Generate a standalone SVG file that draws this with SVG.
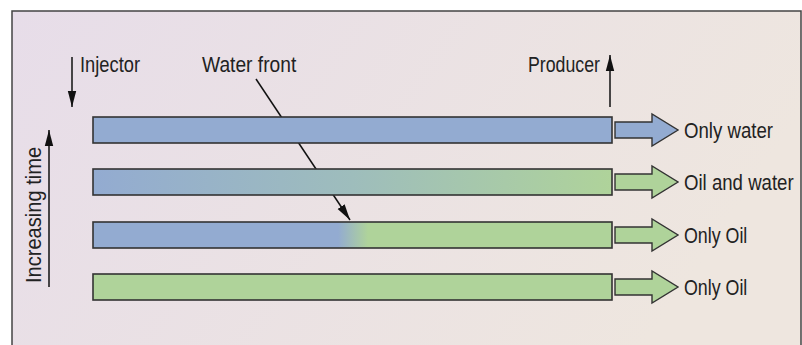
<svg xmlns="http://www.w3.org/2000/svg" width="802" height="345" viewBox="0 0 802 345">
<defs>
<linearGradient id="bg" x1="0" y1="0" x2="1" y2="0.3">
<stop offset="0" stop-color="#e7dde9"/>
<stop offset="1" stop-color="#eee6df"/>
</linearGradient>
<linearGradient id="mix" x1="0" y1="0" x2="1" y2="0">
<stop offset="0" stop-color="#93abd1"/>
<stop offset="0.5" stop-color="#9ebdbc"/>
<stop offset="1" stop-color="#afd39a"/>
</linearGradient>
<linearGradient id="front" x1="93" y1="0" x2="612" y2="0" gradientUnits="userSpaceOnUse">
<stop offset="0" stop-color="#93abd1"/>
<stop offset="0.472" stop-color="#93abd1"/>
<stop offset="0.53" stop-color="#afd39a"/>
<stop offset="1" stop-color="#afd39a"/>
</linearGradient>
<marker id="ah2" viewBox="0 0 16 10" refX="16" refY="5" markerWidth="16" markerHeight="10" markerUnits="userSpaceOnUse" orient="auto">
<path d="M0,0.8 L16,5 L0,9.2 Z" fill="#111"/>
</marker>
</defs>
<style>
.bar{stroke:#333;stroke-width:1.6}
.blk{stroke:#333;stroke-width:1.4}
.lbl{font-family:"Liberation Sans",Arial,sans-serif;font-size:22px;fill:#222}
.ln{stroke:#111;stroke-width:1.5;fill:none}
.blue{fill:#93abd1}
.green{fill:#afd39a}
</style>
<rect x="12" y="11" width="789" height="350" fill="url(#bg)" stroke="#444" stroke-width="1.5"/>
<g id="connectors">
<line class="ln" x1="72" y1="57" x2="72" y2="107" marker-end="url(#ah2)"/>
<line class="ln" x1="610" y1="107" x2="610" y2="55" marker-end="url(#ah2)"/>
<line class="ln" x1="49" y1="287" x2="49" y2="130" marker-end="url(#ah2)"/>
<line class="ln" x1="256" y1="79" x2="350" y2="220" marker-end="url(#ah2)"/>
</g>
<g id="bar1">
<rect class="bar blue" x="93" y="117" width="519" height="26"/>
<path class="blk blue" d="M615,122 H652 V114 L678,130 L652,146 V138 H615 Z"/>
<text class="lbl" transform="translate(684,138) scale(0.847,1)">Only water</text>
</g>
<g id="bar2">
<rect class="bar" fill="url(#mix)" x="93" y="169" width="519" height="26"/>
<path class="blk green" d="M615,174 H652 V166 L678,182 L652,198 V190 H615 Z"/>
<text class="lbl" transform="translate(684,190) scale(0.846,1)">Oil and water</text>
</g>
<g id="bar3">
<rect class="bar" fill="url(#front)" x="93" y="222" width="519" height="26"/>
<path class="blk green" d="M615,227 H652 V219 L678,235 L652,251 V243 H615 Z"/>
<text class="lbl" transform="translate(684,243) scale(0.81,1)">Only Oil</text>
</g>
<g id="bar4">
<rect class="bar green" x="93" y="274" width="519" height="26"/>
<path class="blk green" d="M615,279 H652 V271 L678,287 L652,303 V295 H615 Z"/>
<text class="lbl" transform="translate(684,295) scale(0.81,1)">Only Oil</text>
</g>
<g id="injector">
<text class="lbl" transform="translate(80,72) scale(0.832,1)">Injector</text>
</g>
<g id="waterfront">
<text class="lbl" transform="translate(202,72) scale(0.873,1)">Water front</text>
</g>
<g id="producer">
<text class="lbl" transform="translate(528,72) scale(0.806,1)">Producer</text>
</g>
<g id="time">
<text class="lbl" transform="translate(41,283) rotate(-90) scale(0.913,1)">Increasing time</text>
</g>
</svg>
